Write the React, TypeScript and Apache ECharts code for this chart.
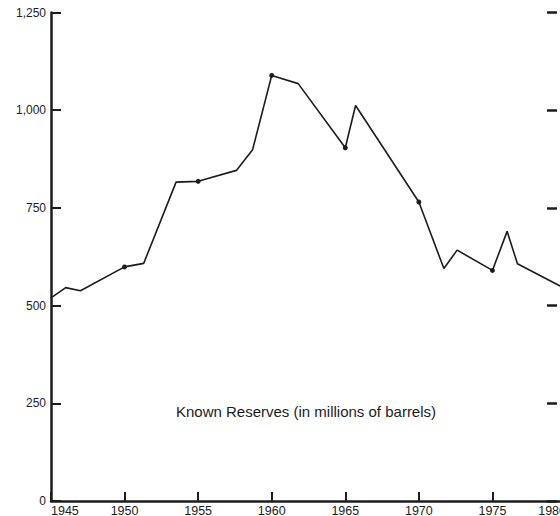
import React, { useEffect, useRef } from "react";
import * as echarts from "echarts";

const years = [1945, 1946, 1947, 1950, 1951.3, 1953.5, 1955, 1957.6, 1958.7, 1960, 1961.8, 1965, 1965.7, 1970, 1971.7, 1972.6, 1975, 1976, 1976.7, 1979.6, 1980];
const reserves = [520, 546, 538, 599, 608, 816, 818, 846, 899, 1089, 1068, 904, 1012, 765, 595, 642, 590, 690, 607, 550, 543];
const markedYears = [1950, 1955, 1960, 1965, 1970, 1975];
const yTicks = [0, 250, 500, 750, 1000, 1250];
const xTicks = [1945, 1950, 1955, 1960, 1965, 1970, 1975, 1980];
const annotation = "Known Reserves (in millions of barrels)";

const FONT = "'Liberation Sans', Arial, Helvetica, sans-serif";
const INK = "#1c1c1c";

export default function App() {
  const ref = useRef<HTMLDivElement>(null);
  useEffect(() => {
    if (!ref.current) return;
    const chart = echarts.init(ref.current, undefined, { renderer: "svg" });
    const data = years.map((y, i) => [y, reserves[i]]);
    chart.setOption({
      animation: false,
      backgroundColor: "#ffffff",
      textStyle: { fontFamily: FONT },
      grid: { left: 51, top: 12.5, bottom: 15, width: 515, containLabel: false, outerBoundsMode: "none" },
      xAxis: {
        type: "value",
        min: xTicks[0],
        max: xTicks[xTicks.length - 1],
        interval: 5,
        splitLine: { show: false },
        axisLine: { show: true, lineStyle: { color: INK, width: 2.5 } },
        axisTick: { show: true, inside: true, length: 9, lineStyle: { color: INK, width: 2 } },
        axisLabel: {
          color: INK,
          fontSize: 12.5,
          fontFamily: FONT,
          margin: 3,
          alignMinLabel: "left",
          alignMaxLabel: "right",
          formatter: (v: number) => String(v),
        },
      },
      yAxis: [
        {
          type: "value",
          min: yTicks[0],
          max: yTicks[yTicks.length - 1],
          interval: 250,
          splitLine: { show: false },
          axisLine: { show: true, lineStyle: { color: INK, width: 2.5 } },
          axisTick: { show: true, inside: true, length: 10, lineStyle: { color: INK, width: 2 } },
          axisLabel: {
            color: INK,
            fontSize: 12,
            fontFamily: FONT,
            margin: 5,
            formatter: (v: number) => v.toLocaleString("en-US"),
          },
        },
        {
          type: "value",
          position: "right",
          offset: -9,
          min: yTicks[0],
          max: yTicks[yTicks.length - 1],
          interval: 250,
          splitLine: { show: false },
          axisLine: { show: false },
          axisTick: { show: true, inside: true, length: 10, lineStyle: { color: INK, width: 2.5 } },
          axisLabel: { show: false },
        },
      ],
      series: [
        {
          type: "line",
          data,
          yAxisIndex: 0,
          showSymbol: true,
          symbol: "circle",
          symbolSize: (v: number[]) => (markedYears.includes(v[0]) ? 5 : 0),
          itemStyle: { color: INK },
          lineStyle: { color: INK, width: 1.6 },
          silent: true,
          clip: false,
        },
      ],
      graphic: [
        {
          type: "text",
          x: 306,
          y: 411,
          style: {
            text: annotation,
            fill: INK,
            font: `15px ${FONT}`,
            textAlign: "center",
            textVerticalAlign: "middle",
          },
        },
      ],
    });
    return () => chart.dispose();
  }, []);
  return (
    <div
      ref={ref}
      style={{ position: "fixed", left: 0, top: 0, width: 560, height: 516, background: "#fff" }}
    />
  );
}
